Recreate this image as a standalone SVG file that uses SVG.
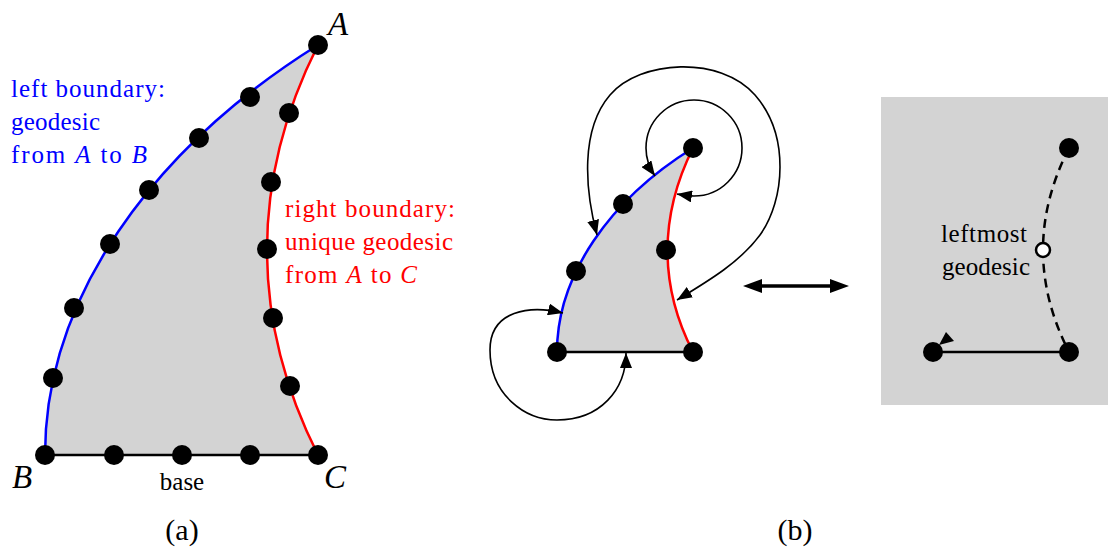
<svg xmlns="http://www.w3.org/2000/svg" width="1108" height="549" viewBox="0 0 1108 549">
<style>
.t{font-family:"Liberation Serif","Times New Roman",serif;font-size:25px;fill:#000}
.big{font-family:"Liberation Serif","Times New Roman",serif;font-size:33px;font-style:italic;fill:#000}
.cap{font-family:"Liberation Serif","Times New Roman",serif;font-size:30px;fill:#000;text-anchor:middle}
.blue{fill:#0000ff}
.red{fill:#ff0000}
.it{font-style:italic}
.dot{fill:#000}
.fillg{fill:#d3d3d3;stroke:none}
.bl{fill:none;stroke:#0000ff;stroke-width:2.5}
.rd{fill:none;stroke:#ff0000;stroke-width:2.5}
.bk{fill:none;stroke:#000;stroke-width:2.5}
.conn{fill:none;stroke:#000;stroke-width:1.6}
</style>
<defs>
<marker id="ah" viewBox="0 0 15 12" refX="15" refY="6" markerWidth="15" markerHeight="12" markerUnits="userSpaceOnUse" orient="auto-start-reverse">
<path d="M0,0 L15,6 L0,12 Z" fill="#000"/>
</marker>
<marker id="ahb" viewBox="0 0 19 14" refX="1" refY="7" markerWidth="19" markerHeight="14" markerUnits="userSpaceOnUse" orient="auto-start-reverse">
<path d="M0,0 L19,7 L0,14 Z" fill="#000"/>
</marker>
</defs>

<!-- Panel (a) -->
<g id="panel-a">
<path class="fillg" d="M318,45 C150,150 45,300 45,455 L318,455 C250,320 250,180 318,45 Z"/>
<path class="bl" d="M318,45 C150,150 45,300 45,455"/>
<path class="rd" d="M318,45 C250,180 250,320 318,455"/>
<line class="bk" x1="45" y1="455" x2="318" y2="455"/>
<g id="a-dots" class="dot">
<circle cx="318" cy="45" r="10"/>
<circle cx="250" cy="97" r="10"/>
<circle cx="199" cy="138" r="10"/>
<circle cx="149" cy="190" r="10"/>
<circle cx="110" cy="244" r="10"/>
<circle cx="74" cy="308" r="10"/>
<circle cx="53" cy="378" r="10"/>
<circle cx="45" cy="455" r="10"/>
<circle cx="289" cy="113" r="10"/>
<circle cx="271" cy="182" r="10"/>
<circle cx="267" cy="249" r="10"/>
<circle cx="273" cy="318" r="10"/>
<circle cx="290" cy="386" r="10"/>
<circle cx="114" cy="455" r="10"/>
<circle cx="182" cy="455" r="10"/>
<circle cx="250" cy="455" r="10"/>
<circle cx="318" cy="455" r="10"/>
</g>
<text class="big" x="328" y="35">A</text>
<text class="big" x="12" y="488">B</text>
<text class="big" x="324" y="488">C</text>
<text class="t" x="182" y="490" text-anchor="middle">base</text>
<text class="t blue" x="11" y="97" textLength="154" lengthAdjust="spacing">left boundary:</text>
<text class="t blue" x="11" y="130" textLength="89" lengthAdjust="spacing">geodesic</text>
<text class="t blue" x="11" y="163" textLength="136" lengthAdjust="spacing">from <tspan class="it">A</tspan> to <tspan class="it">B</tspan></text>
<text class="t red" x="285" y="217" textLength="170" lengthAdjust="spacing">right boundary:</text>
<text class="t red" x="285" y="250" textLength="168" lengthAdjust="spacing">unique geodesic</text>
<text class="t red" x="285" y="283" textLength="132" lengthAdjust="spacing">from <tspan class="it">A</tspan> to <tspan class="it">C</tspan></text>
<text class="cap" x="182" y="540">(a)</text>
</g>

<!-- Panel (b) left -->
<g id="panel-b-triangle">
<path class="fillg" d="M693,148 C609,200 557,276 557,352 L693,352 C659,286 659,216 693,148 Z"/>
<path class="bl" d="M693,148 C609,200 557,276 557,352"/>
<path class="rd" d="M693,148 C659,216 659,286 693,352"/>
<line class="bk" x1="557" y1="352" x2="693" y2="352"/>
<g class="dot">
<circle cx="693" cy="148" r="10"/>
<circle cx="623" cy="204" r="10"/>
<circle cx="576" cy="271" r="10"/>
<circle cx="666" cy="250" r="10"/>
<circle cx="557" cy="352" r="10"/>
<circle cx="693" cy="352" r="10"/>
</g>
</g>

<g id="connectors">
<path class="conn" marker-start="url(#ah)" marker-end="url(#ah)" d="M655,176 C648,166 646,156 646,148 A48,48 0 1 1 694,196 C688,196 683,195 677,194"/>
<path class="conn" marker-start="url(#ah)" marker-end="url(#ah)" d="M597,235 C585,190 580,130 610,95 C640,60 720,55 755,95 C790,135 785,200 760,235 C740,262 710,280 677,300"/>
<path class="conn" marker-start="url(#ah)" marker-end="url(#ah)" d="M563,313 C530,305 490,310 490,350 C490,395 525,420 557,420 C600,420 626,390 626,353"/>
<line x1="761" y1="286" x2="831" y2="286" stroke="#000" stroke-width="3.5" marker-start="url(#ahb)" marker-end="url(#ahb)"/>
</g>
<text class="cap" x="795" y="540">(b)</text>

<!-- Panel (b) right -->
<g id="panel-b-right">
<rect x="881" y="97" width="227" height="308" fill="#d3d3d3"/>
<path d="M1069,148 Q1017,250 1069,352" fill="none" stroke="#000" stroke-width="2.5" stroke-dasharray="9,6"/>
<line class="bk" x1="933" y1="352" x2="1069" y2="352"/>
<circle cx="1043" cy="250" r="7" fill="#fff" stroke="#000" stroke-width="2.5"/>
<g class="dot">
<circle cx="1069" cy="148" r="10"/>
<circle cx="933" cy="352" r="10"/>
<circle cx="1069" cy="352" r="10"/>
</g>
<polygon points="939,345 946,332 954,341" fill="#000"/>
<text class="t" x="941" y="242" textLength="86" lengthAdjust="spacing">leftmost</text>
<text class="t" x="942" y="275" textLength="88" lengthAdjust="spacing">geodesic</text>
</g>
</svg>
